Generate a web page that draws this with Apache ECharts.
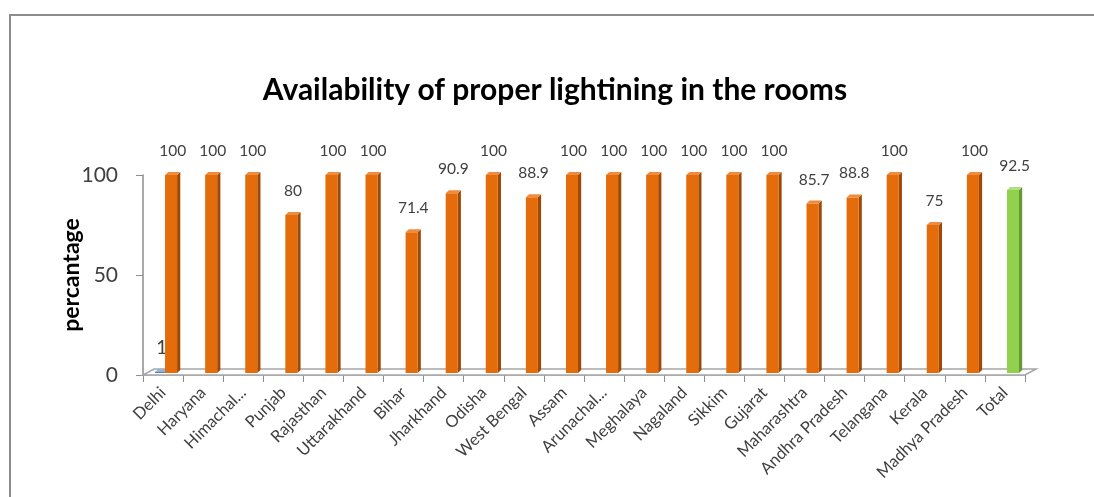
<!DOCTYPE html>
<html>
<head>
<meta charset="utf-8">
<script src="https://cdn.jsdelivr.net/npm/echarts@6/dist/echarts.min.js"></script>
<style>html,body{margin:0;padding:0;background:#fff;}#chart{width:1094px;height:497px;}</style>
</head>
<body>
<div id="chart"></div>
<script>
const categories = ['Delhi','Haryana','Himachal...','Punjab','Rajasthan','Uttarakhand','Bihar','Jharkhand','Odisha','West Bengal','Assam','Arunachal...','Meghalaya','Nagaland','Sikkim','Gujarat','Maharashtra','Andhra Pradesh','Telangana','Kerala','Madhya Pradesh','Total'];
const blueValues   = [1,null,null,null,null,null,null,null,null,null,null,null,null,null,null,null,null,null,null,null,null,null];
const orangeValues = [100,100,100,80,100,100,71.4,90.9,100,88.9,100,100,100,100,100,100,85.7,88.8,100,75,100,null];
const greenValues  = [null,null,null,null,null,null,null,null,null,null,null,null,null,null,null,null,null,null,null,null,null,92.5];
const yTicks = [0, 50, 100];

const FONT = 'Lato, "Open Sans", sans-serif';

function toPairs(arr){ const out=[]; arr.forEach((v,i)=>{ if(v!==null) out.push([i,v]); }); return out; }

function makeBar3D(front, side, top, offL, offR, fontSize){
  return function(params, api){
    const i = api.value(0), v = api.value(1);
    const p = api.coord([i, v]);
    const b = api.coord([i, 0]);
    const w = api.size([1, 0])[0];
    const xl = p[0] + w*offL, xr = p[0] + w*offR;
    const d = w*0.08, dy = 3;
    const base = b[1] - 2;
    let yt = Math.min(p[1], base - 1);
    const children = [
      {type:'polygon', shape:{points:[[xr,yt],[xr+d,yt-dy],[xr+d,base-dy],[xr,base]]}, style:{fill:side}},
      {type:'rect', shape:{x:xl, y:yt, width:xr-xl, height:base-yt}, style:{fill:front}},
      {type:'polygon', shape:{points:[[xl,yt],[xl+d,yt-dy],[xr+d,yt-dy],[xr,yt]]}, style:{fill:top}},
      {type:'text', x:(xl+xr+d)/2, y:yt-24, style:{text:String(v), fill:'#404040', font:fontSize+'px '+FONT, align:'center', verticalAlign:'middle'}}
    ];
    return {type:'group', children};
  };
}

const chart = echarts.init(document.getElementById('chart'), null, {renderer:'canvas'});
chart.setOption({
  animation:false,
  backgroundColor:'#fff',
  graphic:[{type:'rect', shape:{x:10, y:15, width:1200, height:600}, style:{fill:'none', stroke:'#8c8c8c', lineWidth:2}, z:-10}],
  title:{text:'Availability of proper lightining in the rooms', left:550, textAlign:'center', top:70,
    textStyle:{fontFamily:FONT, fontSize:30, fontWeight:'bold', color:'#000'}},
  grid:{left:143, right:69, top:175, bottom:122, containLabel:false},
  xAxis:{type:'category', data:categories, boundaryGap:true,
    axisLine:{show:true, lineStyle:{color:'#a6a6a6', width:1.5}},
    axisTick:{show:true, length:7, lineStyle:{color:'#8c8c8c'}},
    axisLabel:{rotate:45, interval:0, margin:15, fontFamily:FONT, fontSize:16.5, color:'#404040'}},
  yAxis:{type:'value', min:0, max:100, interval:50,
    name:'percantage', nameLocation:'middle', nameGap:60, nameRotate:90, nameMoveOverlap:false,
    nameTextStyle:{fontFamily:FONT, fontSize:23, fontWeight:'bold', color:'#000'},
    axisLine:{show:true, lineStyle:{color:'#8c8c8c', width:1.5}},
    axisTick:{show:true, length:7, lineStyle:{color:'#8c8c8c'}},
    splitLine:{show:false},
    axisLabel:{margin:25, fontFamily:FONT, fontSize:21, color:'#404040',
      customValues: yTicks}},
  series:[
    {type:'custom', name:'floor', data:[[0,0]], z:1, silent:true,
      renderItem:function(params, api){
        const cs = params.coordSys;
        const y0 = cs.y + cs.height, x0 = cs.x, x1 = cs.x + cs.width;
        const dx = 11, dy = 6;
        return {type:'polygon', shape:{points:[[x0,y0],[x1,y0],[x1+dx,y0-dy],[x0+dx,y0-dy]]},
          style:{fill:'#fff', stroke:'#a6a6a6', lineWidth:1.5}};
      }},
    {type:'custom', name:'blue', data:toPairs(blueValues), z:3, encode:{x:0,y:1},
      renderItem:makeBar3D('#4F81BD','#385D8A','#95B3D7',-0.2,0.05,19)},
    {type:'custom', name:'orange', data:toPairs(orangeValues), z:4, encode:{x:0,y:1},
      renderItem:makeBar3D('#E46C0A','#9E4A06','#F08A3C',0.05,0.35,15.5)},
    {type:'custom', name:'green', data:toPairs(greenValues), z:4, encode:{x:0,y:1},
      renderItem:makeBar3D('#92D050','#659A33','#B0DE80',0.05,0.35,15.5)}
  ]
});
</script>
</body>
</html>
